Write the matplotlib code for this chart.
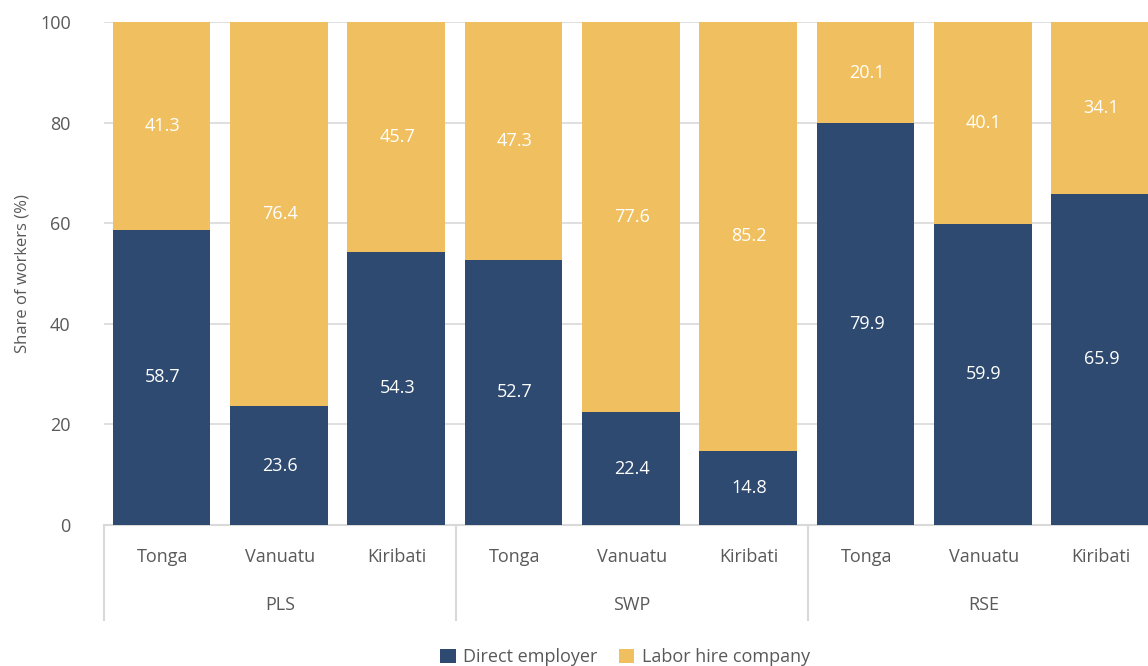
import matplotlib
matplotlib.use("Agg")
import matplotlib.pyplot as plt
import matplotlib.transforms as mtransforms
from matplotlib.patches import Patch
import numpy as np

plt.rcParams["font.family"] = ["Open Sans", "DejaVu Sans"]

schemes = ["PLS", "SWP", "RSE"]
countries = ["Tonga", "Vanuatu", "Kiribati"]
direct_employer = [58.7, 23.6, 54.3, 52.7, 22.4, 14.8, 79.9, 59.9, 65.9]
labor_hire = [41.3, 76.4, 45.7, 47.3, 77.6, 85.2, 20.1, 40.1, 34.1]
y_ticks = [0, 20, 40, 60, 80, 100]

navy = "#2E4A70"
gold = "#F0C060"
text_grey = "#595959"
line_grey = "#D9D9D9"

W, H = 1148, 666
fig = plt.figure(figsize=(W / 100, H / 100), dpi=100)
ax_left, ax_right, ax_top, ax_bottom = 104, 1160, 22, 525
ax = fig.add_axes([ax_left / W, (H - ax_bottom) / H,
                   (ax_right - ax_left) / W, (ax_bottom - ax_top) / H])

n = len(direct_employer)
x = np.arange(n)
width = 0.83
ax.bar(x - 0.01, direct_employer, width, color=navy, zorder=3)
ax.bar(x - 0.01, labor_hire, width, bottom=direct_employer, color=gold, zorder=3)

for xi, d, l in zip(x, direct_employer, labor_hire):
    ax.text(xi, d / 2, f"{d:.1f}", ha="center", va="center", color="white",
            fontsize=13, zorder=4)
    ax.text(xi, d + l / 2, f"{l:.1f}", ha="center", va="center", color="white",
            fontsize=13, zorder=4)

ax.set_xlim(-0.5, n - 0.5)
ax.set_ylim(0, 100)
ax.set_yticks(y_ticks)
ax.set_yticklabels([str(t) for t in y_ticks], fontsize=13, color=text_grey)
ax.tick_params(axis="y", length=0, pad=24)
ax.set_xticks([])
for s in ["top", "right", "left"]:
    ax.spines[s].set_visible(False)
ax.spines["bottom"].set_color(line_grey)
ax.spines["bottom"].set_linewidth(1.5)
ax.grid(axis="y", color=line_grey, linewidth=1.2, zorder=0)
ax.set_axisbelow(True)
ax.set_ylabel("Share of workers (%)", fontsize=12, color=text_grey, labelpad=7)

ax_h = ax_bottom - ax_top
trans = mtransforms.blended_transform_factory(ax.transData, ax.transAxes)
for i in range(n):
    ax.text(i, -32 / ax_h, countries[i % 3], transform=trans, ha="center",
            va="center", fontsize=13, color=text_grey)
for g, name in enumerate(schemes):
    ax.text(3 * g + 1, -80 / ax_h, name, transform=trans, ha="center",
            va="center", fontsize=13, color=text_grey)
for b in range(len(schemes) + 1):
    ax.plot([3 * b - 0.5, 3 * b - 0.5], [0, -95 / ax_h], transform=trans,
            color=line_grey, linewidth=1.5, clip_on=False)

handles = [Patch(facecolor=navy, label="Direct employer"),
           Patch(facecolor=gold, label="Labor hire company")]
leg = fig.legend(handles=handles, loc="center", bbox_to_anchor=(625 / W, 9 / H),
                 ncol=2, frameon=False, fontsize=13, handlelength=0.85,
                 handleheight=0.85, handletextpad=0.4, columnspacing=1.2)
for t in leg.get_texts():
    t.set_color(text_grey)

fig.savefig("out.png", dpi=100)
